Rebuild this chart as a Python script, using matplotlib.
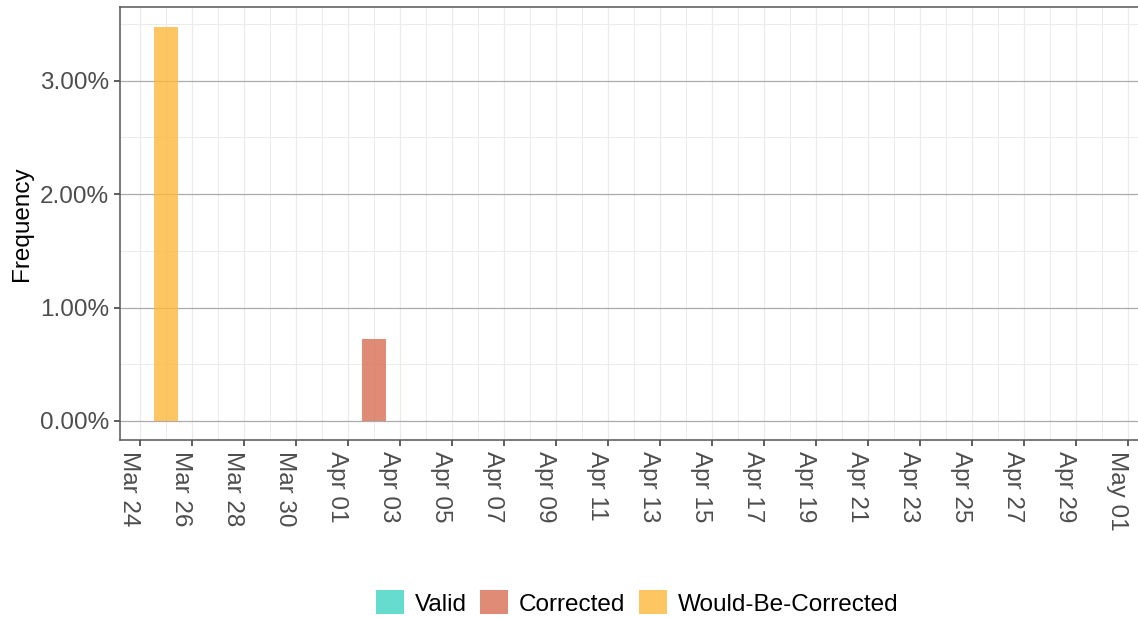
import matplotlib
matplotlib.use("Agg")
import matplotlib.pyplot as plt
import matplotlib.dates as mdates
from matplotlib.patches import Patch
import numpy as np
import pandas as pd

# ---- data ----
start_date = "2020-03-24"
end_date = "2020-05-01"
categories = ["Valid", "Corrected", "Would-Be-Corrected"]
colors = ["#40D4C4", "#D86E54", "#FEB83B"]
# nonzero daily frequencies (percent); all other days are 0
corrected_days = ["2020-04-02"]
corrected_vals = [0.724]
wbc_days = ["2020-03-25"]
wbc_vals = [3.477]
valid_days = []
valid_vals = []

plt.rcParams['font.family'] = ['Liberation Sans', 'DejaVu Sans']
FS = 17.5

dates = pd.date_range(start_date, end_date, freq="D")
def series(days, vals):
    s = pd.Series(0.0, index=dates)
    for d, v in zip(days, vals):
        s[pd.Timestamp(d)] = v
    return s

valid = series(valid_days, valid_vals)
corrected = series(corrected_days, corrected_vals)
wbc = series(wbc_days, wbc_vals)

fig = plt.figure(figsize=(11.38, 6.18), dpi=100)
ax = fig.add_axes([120/1138, 1-440/618, 1-120/1138, (440-7)/618])

bottom = np.zeros(len(dates))
for vals, c in zip([valid, corrected, wbc], colors):
    ax.bar(dates, vals.values, width=0.9, bottom=bottom, color=c, alpha=0.8,
           linewidth=0, zorder=3)
    bottom += vals.values

x0 = mdates.date2num(pd.Timestamp(start_date))
ax.set_xlim(x0 - 0.77, x0 + 38.4)
ax.set_ylim(-0.168, 3.65)

ticks = pd.date_range(start_date, end_date, freq="2D")
ax.set_xticks(mdates.date2num(ticks))
ax.set_xticks(mdates.date2num(ticks[:-1] + pd.Timedelta(days=1)), minor=True)
ax.set_xticklabels([t.strftime("%b %d") for t in ticks], rotation=-90,
                   fontsize=FS, color="#4D4D4D", ha="right", va="top")
yt = [0, 1, 2, 3]
ax.set_yticks(yt)
ax.set_yticks([0.5, 1.5, 2.5, 3.5], minor=True)
ax.set_yticklabels([f"{v:.2f}%" for v in yt], fontsize=FS, color="#4D4D4D")

ax.grid(which="major", axis="y", color="#ABABAB", linewidth=0.9, zorder=0)
ax.grid(which="minor", axis="y", color="#EBEBEB", linewidth=0.7, zorder=0)
ax.grid(which="major", axis="x", color="#EBEBEB", linewidth=0.9, zorder=0)
ax.grid(which="minor", axis="x", color="#EBEBEB", linewidth=0.7, zorder=0)
ax.set_axisbelow(True)

ax.tick_params(which="major", length=4, width=1.1, color="#333333", pad=4)
ax.tick_params(which="minor", length=0)
for s in ["left", "bottom", "top"]:
    ax.spines[s].set_color("#555555")
    ax.spines[s].set_linewidth(1.1)
ax.spines["right"].set_visible(False)

ax.set_ylabel("Frequency", fontsize=FS, color="black")
ax.yaxis.set_label_coords((33 - 120) / 1018, 0.5)

handles = [Patch(facecolor=c, alpha=0.8, edgecolor="none") for c in colors]
fig.legend(handles, categories, loc="center", ncol=3,
           bbox_to_anchor=(637/1138, 1-603/618), frameon=False, fontsize=FS,
           handlelength=1.15, handleheight=1.15, handletextpad=0.45, columnspacing=0.55)

fig.savefig("out.png", dpi=100)
